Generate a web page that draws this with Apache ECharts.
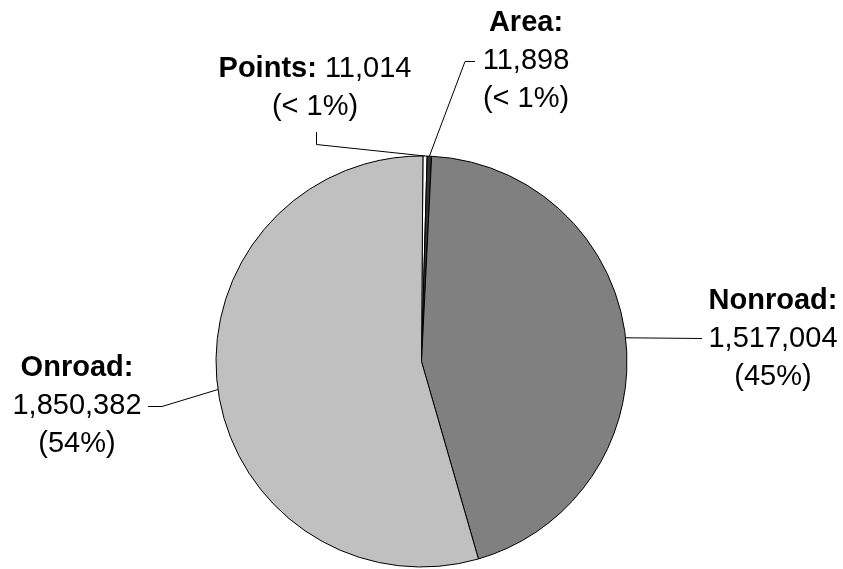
<!DOCTYPE html>
<html>
<head>
<meta charset="utf-8">
<style>
  html, body { margin: 0; padding: 0; background: #ffffff; }
  #chart { width: 843px; height: 569px; }
</style>
<script src="https://cdn.jsdelivr.net/npm/echarts@6/dist/echarts.min.js"></script>
</head>
<body>
<div id="chart"></div>
<script>
// ---- data ----
const categories = ['Points', 'Area', 'Nonroad', 'Onroad'];
const values = [11014, 11898, 1517004, 1850382];
const percentLabels = ['< 1%', '< 1%', '45%', '54%'];

// ---- styling / layout ----
const sliceColors = ['#ffffff', '#333333', '#808080', '#c0c0c0'];
const labelCenters = {            // centre of each label block
  Points:  [315, 88],
  Area:    [526, 61],
  Nonroad: [773, 339],
  Onroad:  [77, 406]
};
const leaderTails = {             // elbow / end points of each leader line
  Points:  [[316.5, 144.5], [316.5, 132]],
  Area:    [[465, 61.5], [475, 61.5]],
  Nonroad: [[702, 338.5]],
  Onroad:  [[162, 406.5], [148, 406.5]]
};

const FONT = 'Arial, "Liberation Sans", Helvetica, sans-serif';
const FS = 29;
const LH = 38;

function fmt(v) { return v.toLocaleString('en-US'); }

const data = categories.map((name, i) => ({
  name: name,
  value: values[i],
  itemStyle: { color: sliceColors[i] }
}));

const chart = echarts.init(document.getElementById('chart'), null, { renderer: 'canvas' });

chart.setOption({
  backgroundColor: '#ffffff',
  animation: false,
  series: [{
    type: 'pie',
    center: [421.5, 361.5],
    radius: 205.5,
    startAngle: 89.6,
    clockwise: true,
    avoidLabelOverlap: false,
    minShowLabelAngle: 0,
    emphasis: { disabled: true },
    itemStyle: { borderColor: '#000000', borderWidth: 1 },
    label: {
      show: true,
      position: 'outside',
      color: '#000000',
      fontFamily: FONT,
      fontSize: FS,
      lineHeight: LH,
      align: 'center',
      formatter: function (p) {
        const i = p.dataIndex;
        if (p.name === 'Points') {
          return '{b|' + p.name + ':} {v|' + fmt(values[i]) + '}\n{v|(' + percentLabels[i] + ')}';
        }
        return '{b|' + p.name + ':}\n{v|' + fmt(values[i]) + '}\n{v|(' + percentLabels[i] + ')}';
      },
      rich: {
        b: { fontFamily: FONT, fontSize: FS, lineHeight: LH, fontWeight: 'bold', color: '#000000' },
        v: { fontFamily: FONT, fontSize: FS, lineHeight: LH, color: '#000000' }
      }
    },
    labelLine: {
      show: true,
      smooth: false,
      length: 10,
      length2: 10,
      lineStyle: { color: '#000000', width: 1 }
    },
    labelLayout: function (params) {
      const name = categories[params.dataIndex];
      const c = labelCenters[name];
      const res = { x: c[0], y: c[1], align: 'center', verticalAlign: 'middle' };
      if (params.labelLinePoints && params.labelLinePoints.length) {
        res.labelLinePoints = [params.labelLinePoints[0]].concat(leaderTails[name]);
      }
      return res;
    },
    data: data
  }]
});
</script>
</body>
</html>
